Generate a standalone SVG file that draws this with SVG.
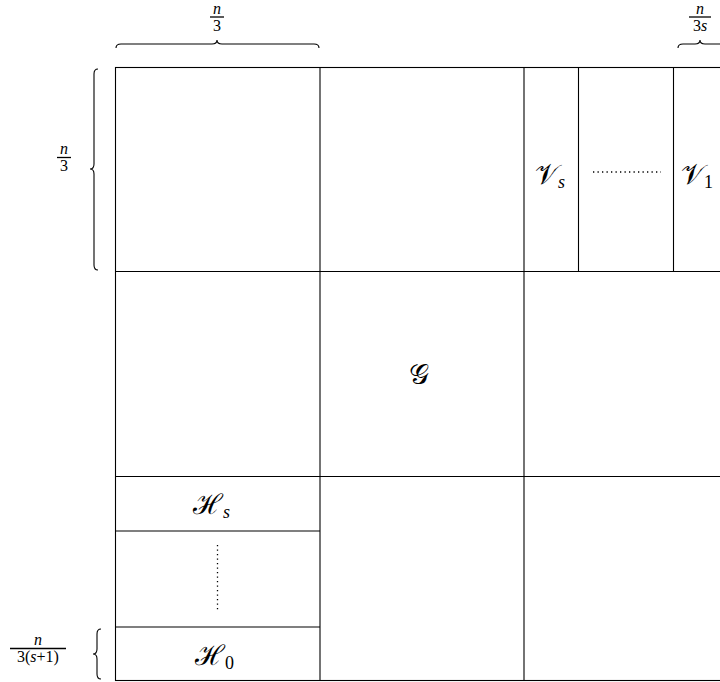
<svg xmlns="http://www.w3.org/2000/svg" width="720" height="682" viewBox="0 0 720 682">
<style>
.g{stroke:#000;stroke-width:1.1;fill:none}
.br{stroke:#000;stroke-width:1.1;fill:none}
.fr{font-family:"Liberation Serif","DejaVu Serif",serif;font-size:16px;text-anchor:middle;fill:#000}
.it{font-style:italic}
.bar{stroke:#000;stroke-width:1.3}
.cal{font-family:"DejaVu Serif","Liberation Serif",serif;font-size:28px;fill:#000}
.sub{font-family:"Liberation Serif","DejaVu Serif",serif;font-size:18px;fill:#000}
.dot{stroke:#000;stroke-width:1.3;stroke-dasharray:1.3 3.2;fill:none}
</style>
<rect width="720" height="682" fill="#fff"/>
<g id="grid">
<rect class="g" x="115.5" y="67.5" width="612" height="613"/>
<line class="g" x1="320" y1="67.5" x2="320" y2="680.5"/>
<line class="g" x1="524" y1="67.5" x2="524" y2="680.5"/>
<line class="g" x1="578.5" y1="67.5" x2="578.5" y2="271.5"/>
<line class="g" x1="673.5" y1="67.5" x2="673.5" y2="271.5"/>
<line class="g" x1="115.5" y1="271.5" x2="727.5" y2="271.5"/>
<line class="g" x1="115.5" y1="476.5" x2="727.5" y2="476.5"/>
<line class="g" x1="115.5" y1="531" x2="320" y2="531"/>
<line class="g" x1="115.5" y1="627" x2="320" y2="627"/>
</g>
<g id="connectors">
<path class="br" d="M116 48 Q116 44 121 44 L212 44 Q217 44 217 40 Q217 44 222 44 L314 44 Q319 44 319 48"/>
<path class="br" d="M678 48 Q678 44 683 44 L695 44 Q700 44 700 40 Q700 44 705 44 L722 44"/>
<path class="br" d="M98 69 Q94 69 94 74 L94 164 Q94 169 90 169 Q94 169 94 174 L94 265 Q94 270 98 270"/>
<path class="br" d="M101 629 Q97 629 97 634 L97 649 Q97 654 93 654 Q97 654 97 659 L97 674 Q97 679 101 679"/>
</g>
<g id="label-top-left">
<text class="fr it" x="217" y="14">n</text>
<line class="bar" x1="210" y1="17" x2="224" y2="17"/>
<text class="fr" x="217" y="31">3</text>
</g>
<g id="label-top-right">
<text class="fr it" x="700" y="14">n</text>
<line class="bar" x1="689" y1="17" x2="711" y2="17"/>
<text class="fr" x="700" y="31">3<tspan class="it">s</tspan></text>
</g>
<g id="label-left">
<text class="fr it" x="64" y="154">n</text>
<line class="bar" x1="57" y1="157.5" x2="71" y2="157.5"/>
<text class="fr" x="64" y="171">3</text>
</g>
<g id="label-bottom-left">
<text class="fr it" x="38" y="645">n</text>
<line class="bar" x1="10" y1="648.5" x2="66" y2="648.5"/>
<text class="fr" x="38" y="662">3(<tspan class="it">s</tspan>+1)</text>
</g>
<g id="node-Vs">
<text class="cal" x="535" y="184">𝒱<tspan class="sub it" dy="4">s</tspan></text>
</g>
<g id="node-dots-h">
<line class="dot" x1="593" y1="172" x2="661" y2="172"/>
</g>
<g id="node-V1">
<text class="cal" x="681" y="184">𝒱<tspan class="sub" dy="4">1</tspan></text>
</g>
<g id="node-G">
<text class="cal" x="409" y="384">𝒢</text>
</g>
<g id="node-Hs">
<text class="cal" x="193" y="514">ℋ<tspan class="sub it" dy="4">s</tspan></text>
</g>
<g id="node-dots-v">
<line class="dot" x1="217.5" y1="545" x2="217.5" y2="612"/>
</g>
<g id="node-H0">
<text class="cal" x="195" y="665">ℋ<tspan class="sub" dy="4">0</tspan></text>
</g>
</svg>
